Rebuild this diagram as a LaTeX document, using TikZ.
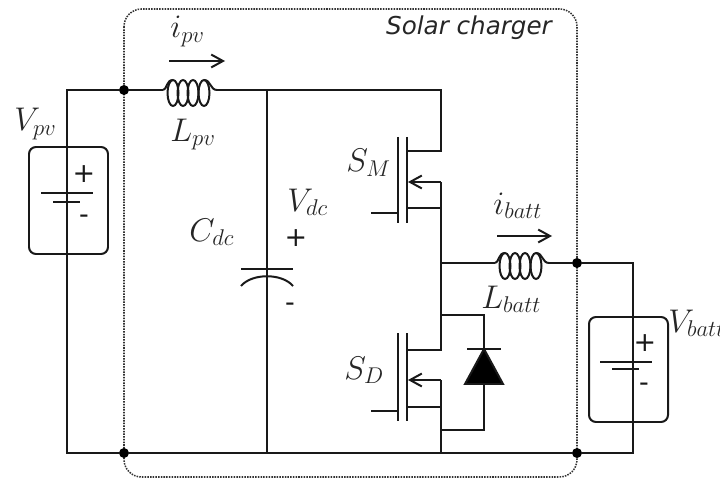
\documentclass[tikz,border=0pt]{standalone}
\usepackage{amsmath,amssymb}
\usepackage{fontspec}
\setsansfont{DejaVu Sans}
\usepackage{tikz}
\usetikzlibrary{positioning,calc,arrows.meta}
\tikzset{
    wire/.style={line width=1.7pt, color=black!90},
    frame/.style={line width=1.3pt, densely dotted, color=black!80, rounded corners=15},
    pack/.style={line width=1.7pt, color=black!90, rounded corners=6},
    flow/.style={line width=1.7pt, color=black!90, -{Straight Barb[length=10pt,width=11pt,line width=1.7pt]}},
    junction/.style={circle, fill=black, inner sep=0pt, minimum size=8.5pt},
    symb/.style={font=\huge, scale=1.35, color=black!85, inner sep=0pt},
    sign/.style={font=\sffamily\fontsize{23}{23}\selectfont, color=black!90, inner sep=0pt},
    coil/.pic={
        \foreach \x in {0, 10, 20, 31} \draw [wire] (\x+10, 3) ellipse [x radius=5.5, y radius=13];
        \draw [wire] (0, 0) .. controls (4, 0) and (3, -10) .. (10, -10);
        \draw [wire] (41, -10) .. controls (48, -10) and (47, 0) .. (54, 0);
        \coordinate (-in) at (0, 0);
        \coordinate (-out) at (54, 0);
    }
}
\begin{document}
\begin{tikzpicture}[x=0.03cm, y=-0.03cm]
    \useasboundingbox (0, 0) rectangle (720, 479);
    % Charger frame
    \draw [frame] (124, 9) rectangle (577, 477);
    \node [font=\sffamily\itshape\fontsize{21}{21}\selectfont, color=black!85, inner sep=0pt] (title) at (469, 28) {Solar charger};
    % Junctions
    \node [junction] (jtl) at (124, 90) {};
    \node [junction] (jbl) at (124, 453) {};
    \node [junction] (jtr) at (577, 263) {};
    \node [junction] (jbr) at (577, 453) {};
    \coordinate (pvtop) at (67, 90);
    \coordinate (pvbot) at (67, 453);
    \coordinate (dctop) at (267, 90);
    \coordinate (dcbot) at (267, 453);
    \coordinate (swtop) at (441, 90);
    \coordinate (swmid) at (441, 263);
    \coordinate (swbot) at (441, 453);
    \coordinate (battop) at (633, 263);
    \coordinate (batbot) at (633, 453);
    % Inductors
    \pic (Lpv) at (163, 90) {coil};
    \pic (Lbatt) at (495, 263) {coil};
    % Main wires
    \draw [wire] (Lpv-in) -- (jtl) -- (pvtop) -- (pvbot) -- (jbl) -- (dcbot) -- (swbot) -- (jbr) -- (batbot) -- (battop) -- (jtr) -- (Lbatt-out);
    \draw [wire] (Lpv-out) -- (dctop) -- (swtop) -- (441, 151) -- (407, 151);
    \draw [wire] (Lbatt-in) -- (swmid);
    \draw [wire] (dctop) -- (dcbot);
    % PV source
    \draw [pack] (29, 147) rectangle (108, 254);
    \draw [wire] (41, 193) -- (93, 193);
    \draw [wire] (53, 202) -- (80, 202);
    \node [sign] (pvplus) at (84, 174) {+};
    \node [sign] (pvminus) at (84, 219) {-};
    % Capacitor
    \draw [wire] (241, 269) -- (293, 269);
    \draw [wire] (241, 286) .. controls (252, 273) and (282, 273) .. (293, 286);
    \node [sign] (dcplus) at (296, 238) {+};
    \node [sign] (dcminus) at (290, 307) {-};
    % Upper switch
    \draw [wire] (398, 137) -- (398, 223);
    \draw [wire] (407, 137) -- (407, 223);
    \draw [wire] (371, 213) -- (398, 213);
    \draw [wire] (441, 208) -- (407, 208);
    \draw [flow] (441, 182) -- (408, 182);
    \draw [wire] (441, 182) -- (441, 350) -- (407, 350);
    % Lower switch
    \draw [wire] (398, 333) -- (398, 421);
    \draw [wire] (407, 333) -- (407, 421);
    \draw [wire] (371, 411) -- (398, 411);
    \draw [wire] (441, 407) -- (407, 407);
    \draw [flow] (441, 380) -- (408, 380);
    \draw [wire] (441, 380) -- (swbot);
    % Diode
    \draw [wire] (441, 315) -- (484, 315) -- (484, 430) -- (441, 430);
    \draw [wire] (467, 349) -- (501, 349);
    \draw [wire, fill=black] (484, 349) -- (503, 384) -- (465, 384) -- cycle;
    % Battery
    \draw [pack] (589, 317) rectangle (668, 422);
    \draw [wire] (600, 362) -- (652, 362);
    \draw [wire] (612, 369) -- (639, 369);
    \node [sign] (batplus) at (645, 343) {+};
    \node [sign] (batminus) at (644, 387) {-};
    % Current arrows
    \draw [flow] (169, 61) -- (225, 61);
    \draw [flow] (497, 236) -- (552, 236);
    % Labels
    \node [symb, anchor=base west] (Vpv) at (14, 131) {$V_{pv}$};
    \node [symb, anchor=base west] (ipv) at (170, 38) {$i_{pv}$};
    \node [symb, anchor=base west] (Lpvtext) at (170, 141) {$L_{pv}$};
    \node [symb, anchor=base west] (Cdc) at (189, 241) {$C_{dc}$};
    \node [symb, anchor=base west] (Vdc) at (287, 211) {$V_{dc}$};
    \node [symb, anchor=base west] (SM) at (346, 172) {$S_M$};
    \node [symb, anchor=base west] (SD) at (344, 379) {$S_D$};
    \node [symb, anchor=base west] (ibatt) at (493, 214) {$i_{batt}$};
    \node [symb, anchor=base west] (Lbatttext) at (481, 308) {$L_{batt}$};
    \node [symb, anchor=base west] (Vbatt) at (668, 332) {$V_{batt}$};
\end{tikzpicture}
\end{document}
